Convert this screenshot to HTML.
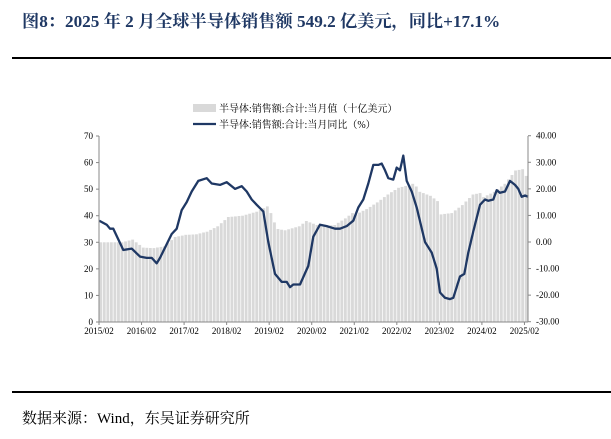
<!DOCTYPE html>
<html><head><meta charset="utf-8"><style>
body{margin:0;width:611px;height:439px;background:#fff;overflow:hidden;position:relative}
.t{position:absolute;left:22px;top:7px;font:bold 17.2px "Liberation Serif","Noto Serif CJK SC",serif;color:#1f3864;white-space:nowrap}
.s{position:absolute;left:22px;top:407px;font:15px "Liberation Serif","Noto Serif CJK SC",serif;color:#000;white-space:nowrap}
.l{position:absolute;left:12px;width:599px;height:2px;background:#000}
svg{position:absolute;left:0;top:0}
</style></head><body>
<div class="t">图8：2025 年 2 月全球半导体销售额 549.2 亿美元，同比+17.1%</div>
<div class="l" style="top:57px"></div>
<div class="l" style="top:391px"></div>
<div class="s">数据来源：Wind，东吴证券研究所</div>
<svg id="c" width="611" height="439" xmlns="http://www.w3.org/2000/svg" font-family="Liberation Serif, serif" font-size="9"></svg>
<script>
const svg=document.getElementById('c');let h='';
const X0=99,X1=528,Y0=322,Y70=136,dx=(X1-X0)/121;
const sy=v=>Y0-v*(Y0-Y70)/70, ry=v=>242-v*2.657;
function interp(k,i){for(let j=0;j<k.length-1;j++){if(i>=k[j][0]&&i<=k[j+1][0]){const t=(i-k[j][0])/(k[j+1][0]-k[j][0]);return k[j][1]+t*(k[j+1][1]-k[j][1]);}}return k[k.length-1][1];}
const sk=[[0,30],[6,30],[9,31],[12,28],[15,27.8],[18,28.5],[21,32],[24,32.8],[27,33],[30,34],[33,36],[36,39.5],[40,40],[44,41.5],[47,43.5],[48,41],[49,37.5],[50,35],[52,34.5],[56,36],[58,38],[60,37],[62,36],[66,36.5],[69,39],[71,41],[72,40.5],[75,42.5],[78,45],[81,48],[84,50.5],[87,51.5],[88,52],[89,51],[90,49],[93,47.5],[95,45.5],[96,40.5],[99,41],[102,44],[105,48],[107,48.5],[108,47],[111,49],[114,52],[117,57],[119,57.5],[120,55]];
for(let i=0;i<121;i++){const v=interp(sk,i);const x=X0+dx*i+0.3;h+=`<rect x="${x.toFixed(2)}" y="${sy(v).toFixed(1)}" width="${(dx*0.8).toFixed(2)}" height="${(Y0-sy(v)).toFixed(1)}" fill="#d9d9d9"/>`;}
const lp=[[118,8],[140,6.5],[150,5],[160,5],[190,-3],[215,-2.5],[240,-5.5],[260,-6],[275,-6],[290,-8],[300,-6],[335,3],[350,5],[365,12],[380,15],[395,19],[415,23],[440,24],[455,22],[480,21.5],[500,22.5],[525,20],[545,21],[560,19],[575,16],[590,14],[610,11.5],[625,0],[645,-12],[665,-15],[680,-15],[690,-17],[700,-16],[720,-16],[745,-9],[760,2],[780,6.5],[800,6],[825,5],[840,5],[860,6],[880,8],[895,13],[910,16],[925,22],[940,29],[955,29],[965,29.5],[975,27],[985,24],[1000,23.5],[1010,28],[1020,27],[1030,32.5],[1040,23],[1055,19],[1070,13],[1095,0],[1115,-4],[1130,-10],[1140,-19],[1155,-21],[1170,-21.5],[1180,-21],[1200,-13],[1213,-12],[1225,-4],[1240,4],[1260,14],[1275,16],[1285,15.5],[1300,16],[1310,19.5],[1320,18.5],[1335,19],[1350,23],[1365,21.5],[1375,20],[1385,17],[1395,17.5],[1405,17]];
h+=`<polyline fill="none" stroke="#1f3864" stroke-width="2.3" stroke-linejoin="round" points="${lp.map(p=>(60+p[0]/3).toFixed(1)+','+ry(p[1]).toFixed(1)).join(' ')}"/>`;
h+=`<line x1="${X0}" y1="${Y70}" x2="${X0}" y2="${Y0}" stroke="#888"/><line x1="${X1}" y1="${Y70}" x2="${X1}" y2="${Y0}" stroke="#888"/><line x1="${X0}" y1="${Y0}" x2="${X1}" y2="${Y0}" stroke="#888"/>`;
for(let v=0;v<=70;v+=10){const y=sy(v);h+=`<text x="93" y="${y+3}" text-anchor="end">${v}</text><line x1="${X0-3}" y1="${y}" x2="${X0}" y2="${y}" stroke="#888"/>`;}
for(let v=-30;v<=40;v+=10){const y=ry(v);h+=`<text x="536" y="${y+3}">${v.toFixed(2)}</text><line x1="${X1}" y1="${y}" x2="${X1+3}" y2="${y}" stroke="#888"/>`;}
for(let k=0;k<=10;k++){const x=X0+dx*12*k;h+=`<line x1="${x}" y1="${Y0}" x2="${x}" y2="${Y0+3}" stroke="#888"/><text x="${x}" y="${Y0+12}" text-anchor="middle">${2015+k}/02</text>`;}
h+=`<rect x="193" y="104" width="23" height="8" fill="#d9d9d9"/><text x="219" y="112" font-family="Liberation Serif, Noto Serif CJK SC, serif" font-size="10">半导体:销售额:合计:当月值（十亿美元）</text>`;
h+=`<line x1="193" y1="124" x2="216" y2="124" stroke="#1f3864" stroke-width="2.3"/><text x="219" y="128" font-family="Liberation Serif, Noto Serif CJK SC, serif" font-size="10">半导体:销售额:合计:当月同比（%）</text>`;
svg.innerHTML=h;
</script>
</body></html>
